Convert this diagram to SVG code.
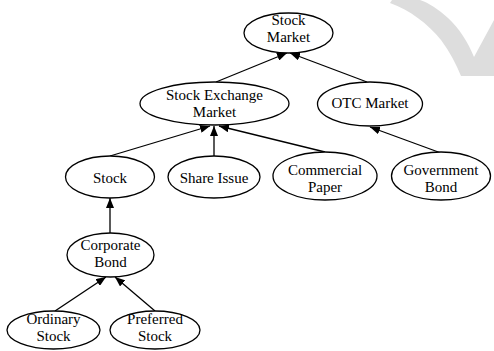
<svg xmlns="http://www.w3.org/2000/svg" width="494" height="351" viewBox="0 0 494 351">
  <style>
    .node ellipse { fill: #ffffff; stroke: #000000; stroke-width: 1.3; }
    .node text { font-size: 15px; fill: #000000; text-anchor: middle; }
    .edge { stroke: #000000; stroke-width: 1.3; fill: none; marker-end: url(#arrow); }
  </style>
  <defs>
    <marker id="arrow" markerUnits="userSpaceOnUse" markerWidth="10" markerHeight="8" refX="10" refY="4" orient="auto">
      <path d="M0,0 L10,4 L0,8 Z" fill="#000000"/>
    </marker>
  </defs>
  <rect width="494" height="351" fill="#ffffff"/>

  <!-- light grey swoosh mark, top right -->
  <path d="M390,3 C410,10 428,24 441,40 C450,52 456,64 461,76 L494,76 L494,20 L474,57 C468,42 459,28 448,18 C438,9 429,3 420,0 L392,0 Z" fill="#dddddd"/>

  <g id="connectors">
    <line class="edge" x1="216" y1="82" x2="287" y2="53"/>
    <line class="edge" x1="367" y1="82" x2="290" y2="53"/>
    <line class="edge" x1="110" y1="156" x2="210" y2="126"/>
    <line class="edge" x1="214" y1="156" x2="214" y2="126"/>
    <line class="edge" x1="325" y1="152" x2="219" y2="126"/>
    <line class="edge" x1="441" y1="153" x2="370" y2="127"/>
    <line class="edge" x1="110" y1="233" x2="110" y2="198"/>
    <line class="edge" x1="55" y1="311" x2="106" y2="277"/>
    <line class="edge" x1="155" y1="311" x2="115" y2="277"/>
  </g>

  <g font-family="'Liberation Serif', 'DejaVu Serif', 'Times New Roman', serif">
    <g id="stock-market" class="node">
      <ellipse cx="288.5" cy="33" rx="44.5" ry="20"/>
      <text x="288.5" y="25">Stock</text>
      <text x="288.5" y="42">Market</text>
    </g>
    <g id="stock-exchange-market" class="node">
      <ellipse cx="214.5" cy="103.5" rx="74.5" ry="21.5"/>
      <text x="214.5" y="100">Stock Exchange</text>
      <text x="214.5" y="117">Market</text>
    </g>
    <g id="otc-market" class="node">
      <ellipse cx="370" cy="104" rx="52.5" ry="22"/>
      <text x="370" y="108">OTC Market</text>
    </g>
    <g id="stock" class="node">
      <ellipse cx="110" cy="177" rx="44.5" ry="21"/>
      <text x="110" y="183">Stock</text>
    </g>
    <g id="share-issue" class="node">
      <ellipse cx="214" cy="177" rx="46" ry="21"/>
      <text x="214" y="183">Share Issue</text>
    </g>
    <g id="commercial-paper" class="node">
      <ellipse cx="325" cy="176" rx="52" ry="24"/>
      <text x="325" y="175">Commercial</text>
      <text x="325" y="192">Paper</text>
    </g>
    <g id="government-bond" class="node">
      <ellipse cx="441" cy="176" rx="49.5" ry="24"/>
      <text x="441" y="175">Government</text>
      <text x="441" y="192">Bond</text>
    </g>
    <g id="corporate-bond" class="node">
      <ellipse cx="110.5" cy="255" rx="43.5" ry="22"/>
      <text x="110.5" y="250">Corporate</text>
      <text x="110.5" y="267">Bond</text>
    </g>
    <g id="ordinary-stock" class="node">
      <ellipse cx="53.5" cy="330" rx="46.5" ry="19"/>
      <text x="53.5" y="324">Ordinary</text>
      <text x="53.5" y="341">Stock</text>
    </g>
    <g id="preferred-stock" class="node">
      <ellipse cx="155" cy="330" rx="45" ry="19"/>
      <text x="155" y="324">Preferred</text>
      <text x="155" y="341">Stock</text>
    </g>
  </g>
</svg>
